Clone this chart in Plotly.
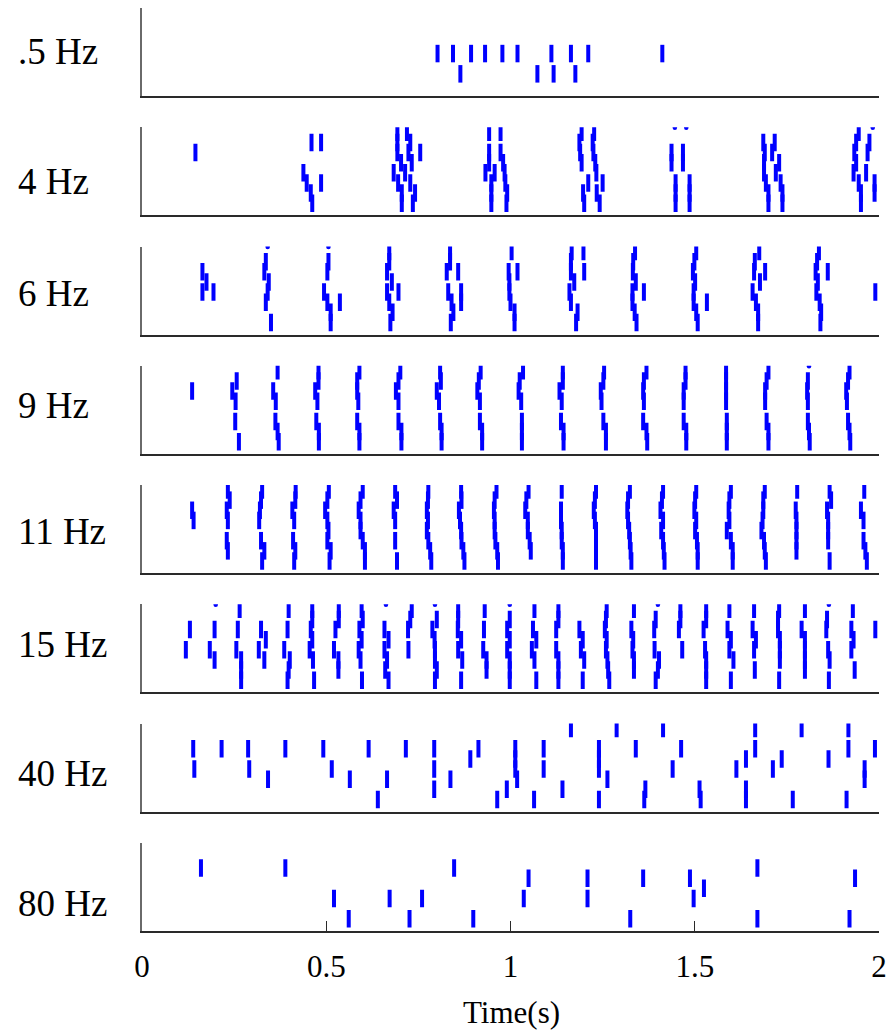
import plotly.graph_objects as go

# Spike times (s) per stimulation frequency; list index = trial number
# (trial 0 lies just above the visible window, only its lower end shows).
labels = [".5 Hz", "4 Hz", "6 Hz", "9 Hz", "11 Hz", "15 Hz", "40 Hz", "80 Hz"]

spikes_05hz = [
    [],
    [], [], [], [],
    [0.802, 0.844, 0.893, 0.931, 0.978, 1.019, 1.111, 1.164, 1.211, 1.412],
    [],
    [0.864, 1.073, 1.117, 1.176],
    [],
]

spikes_4hz = [
    [1.446, 1.477, 1.983],
    [0.693, 0.719, 0.942, 0.973, 1.193, 1.227, 1.945],
    [0.460, 0.486, 0.693, 0.728, 1.187, 1.223, 1.686, 1.717, 1.938, 1.974],
    [0.145, 0.693, 0.723, 0.755, 0.942, 0.973, 1.189, 1.225, 1.437, 1.468, 1.690, 1.710, 1.933, 1.969],
    [0.703, 0.732, 0.942, 0.980, 1.193, 1.230, 1.437, 1.468, 1.688, 1.729, 1.938],
    [0.438, 0.683, 0.714, 0.932, 0.957, 0.984, 1.233, 1.688, 1.720, 1.931, 1.965],
    [0.447, 0.486, 0.695, 0.728, 0.948, 0.986, 1.211, 1.250, 1.448, 1.486, 1.693, 1.733, 1.945, 1.988],
    [0.458, 0.705, 0.741, 0.948, 0.991, 1.197, 1.234, 1.448, 1.486, 1.700, 1.738, 1.951, 1.988],
    [0.462, 0.705, 0.735, 0.948, 0.989, 1.200, 1.242, 1.448, 1.486, 1.700, 1.738, 1.951],
]

spikes_6hz = [
    [0.341, 0.506],
    [0.671, 0.836, 1.003, 1.166, 1.198, 1.338, 1.504, 1.675, 1.837],
    [0.336, 0.506, 0.671, 0.836, 1.164, 1.333, 1.499, 1.663, 1.832],
    [0.164, 0.332, 0.503, 0.665, 0.827, 0.858, 0.995, 1.019, 1.164, 1.200, 1.332, 1.495, 1.661, 1.691, 1.828, 1.861],
    [0.175, 0.344, 0.678, 0.997, 1.173, 1.340, 1.501, 1.677, 1.834],
    [0.164, 0.194, 0.341, 0.494, 0.665, 0.696, 0.831, 0.866, 0.997, 1.160, 1.331, 1.362, 1.497, 1.657, 1.830, 1.990],
    [0.336, 0.503, 0.537, 0.671, 0.840, 0.866, 1.000, 1.164, 1.331, 1.497, 1.533, 1.666, 1.839],
    [0.512, 0.680, 0.845, 1.011, 1.182, 1.337, 1.504, 1.672, 1.843],
    [0.350, 0.512, 0.674, 0.838, 1.011, 1.178, 1.342, 1.508, 1.672, 1.841],
]

spikes_9hz = [
    [1.810],
    [0.368, 0.479, 0.590, 0.701, 0.809, 0.919, 1.034, 1.142, 1.254, 1.369, 1.475, 1.585, 1.700, 1.920],
    [0.257, 0.479, 0.584, 0.696, 0.811, 0.914, 1.025, 1.142, 1.252, 1.362, 1.475, 1.585, 1.695, 1.807, 1.916],
    [0.136, 0.245, 0.356, 0.470, 0.584, 0.689, 0.800, 0.910, 1.022, 1.133, 1.245, 1.360, 1.470, 1.585, 1.691, 1.805, 1.911],
    [0.254, 0.363, 0.476, 0.587, 0.696, 0.806, 0.917, 1.029, 1.139, 1.247, 1.362, 1.470, 1.585, 1.691, 1.807, 1.913],
    [],
    [0.253, 0.362, 0.473, 0.584, 0.696, 0.809, 0.917, 1.031, 1.137, 1.252, 1.360, 1.470, 1.587, 1.695, 1.807, 1.916],
    [0.368, 0.480, 0.590, 0.704, 0.813, 0.923, 1.031, 1.144, 1.259, 1.369, 1.477, 1.587, 1.700, 1.810, 1.920],
    [0.263, 0.371, 0.480, 0.590, 0.704, 0.813, 0.923, 1.031, 1.144, 1.259, 1.371, 1.477, 1.587, 1.700, 1.812, 1.922],
]

spikes_11hz = [
    [],
    [0.233, 0.326, 0.417, 0.507, 0.599, 0.687, 0.777, 0.866, 0.962, 1.049, 1.139, 1.232, 1.324, 1.414, 1.504, 1.598, 1.690, 1.778, 1.866, 1.960],
    [0.238, 0.323, 0.416, 0.503, 0.593, 0.692, 0.776, 0.867, 0.957, 1.043, 1.229, 1.319, 1.411, 1.501, 1.594, 1.686, 1.870],
    [0.136, 0.230, 0.320, 0.408, 0.497, 0.588, 0.683, 0.773, 0.860, 0.955, 1.040, 1.137, 1.226, 1.317, 1.407, 1.499, 1.592, 1.686, 1.774, 1.859, 1.951],
    [0.140, 0.233, 0.318, 0.413, 0.503, 0.593, 0.687, 0.776, 0.863, 0.957, 1.047, 1.137, 1.229, 1.319, 1.414, 1.504, 1.594, 1.684, 1.776, 1.862, 1.958],
    [0.506, 0.593, 0.773, 0.866, 0.957, 1.047, 1.139, 1.232, 1.322, 1.409, 1.501, 1.587, 1.681, 1.776, 1.862],
    [0.230, 0.323, 0.410, 0.503, 0.599, 0.687, 0.777, 0.867, 0.959, 1.052, 1.139, 1.232, 1.324, 1.414, 1.506, 1.598, 1.688, 1.776, 1.862, 1.958],
    [0.233, 0.332, 0.416, 0.512, 0.605, 0.782, 0.872, 0.964, 1.055, 1.142, 1.232, 1.326, 1.416, 1.508, 1.603, 1.690, 1.776, 1.963],
    [0.326, 0.413, 0.509, 0.605, 0.692, 0.785, 0.875, 0.966, 1.142, 1.232, 1.328, 1.418, 1.508, 1.603, 1.693, 1.866, 1.967],
]

spikes_15hz = [
    [0.200, 0.662, 0.795, 0.998, 1.400, 1.864],
    [0.265, 0.398, 0.462, 0.534, 0.596, 0.732, 0.858, 0.930, 1.065, 1.130, 1.261, 1.335, 1.461, 1.531, 1.594, 1.661, 1.729, 1.799, 1.929],
    [0.462, 0.534, 0.599, 0.728, 0.800, 0.858, 0.998, 1.130, 1.259, 1.394, 1.461, 1.531, 1.726, 1.859],
    [0.130, 0.197, 0.260, 0.323, 0.395, 0.458, 0.525, 0.590, 0.658, 0.722, 0.788, 0.857, 0.928, 0.991, 1.061, 1.124, 1.187, 1.256, 1.328, 1.390, 1.457, 1.524, 1.589, 1.657, 1.726, 1.790, 1.857, 1.925, 1.990],
    [0.336, 0.462, 0.596, 0.669, 0.794, 0.866, 0.998, 1.070, 1.196, 1.261, 1.333, 1.598, 1.666, 1.731, 1.799, 1.931],
    [0.119, 0.184, 0.256, 0.317, 0.386, 0.455, 0.521, 0.588, 0.658, 0.723, 0.795, 0.858, 0.926, 0.991, 1.058, 1.124, 1.191, 1.259, 1.331, 1.391, 1.466, 1.528, 1.594, 1.661, 1.731, 1.799, 1.862, 1.925],
    [0.197, 0.269, 0.332, 0.401, 0.464, 0.533, 0.593, 0.665, 0.795, 0.869, 0.935, 0.998, 1.065, 1.130, 1.200, 1.263, 1.335, 1.403, 1.531, 1.605, 1.731, 1.799, 1.866],
    [0.269, 0.398, 0.533, 0.660, 0.800, 0.935, 0.998, 1.130, 1.265, 1.335, 1.400, 1.531, 1.663, 1.799, 1.934],
    [0.269, 0.395, 0.467, 0.597, 0.669, 0.795, 0.866, 0.998, 1.070, 1.130, 1.196, 1.268, 1.394, 1.531, 1.598, 1.729, 1.864],
]

spikes_40hz = [
    [],
    [1.164, 1.288, 1.414, 1.664, 1.790, 1.917],
    [],
    [0.139, 0.216, 0.288, 0.389, 0.492, 0.615, 0.716, 0.793, 0.913, 1.013, 1.090, 1.240, 1.340, 1.463, 1.664, 1.917, 1.989],
    [0.891, 1.013, 1.240, 1.639, 1.736, 1.863],
    [0.142, 0.291, 0.515, 0.793, 1.013, 1.090, 1.240, 1.440, 1.613, 1.712, 1.961],
    [0.342, 0.564, 0.665, 0.837, 1.018, 1.263, 1.961],
    [0.793, 0.990, 1.141, 1.366, 1.513, 1.639],
    [0.640, 0.964, 1.064, 1.240, 1.363, 1.516, 1.639, 1.766, 1.912],
]

spikes_80hz = [
    [],
    [], [],
    [0.160, 0.389, 0.847, 1.670],
    [1.049, 1.209, 1.360, 1.487, 1.935],
    [1.525],
    [0.521, 0.672, 0.760, 1.036, 1.209, 1.497],
    [],
    [0.561, 0.726, 0.899, 1.325, 1.670, 1.920],
]

panels = [spikes_05hz, spikes_4hz, spikes_6hz, spikes_9hz,
          spikes_11hz, spikes_15hz, spikes_40hz, spikes_80hz]

time_ticks = [0, 0.5, 1, 1.5, 2]
time_tick_text = ["0", "0.5", "1", "1.5", "2"]

# ---- layout geometry (pixels) ----
W, H = 895, 1030
M_L, M_R, M_T, M_B = 142, 11, 8, 99
PLOT_H = H - M_T - M_B
PANEL_STEP = 119.25
PANEL_H = 88
LABEL_Y = [52, 181, 293, 405, 531, 644, 773, 903]
TRIAL_RANGE = [9.185, 0.507]   # trials run downward
BLUE = "#0000ff"
SERIF = "Liberation Serif, Times New Roman, serif"

fig = go.Figure()
layout = dict(
    width=W, height=H,
    margin=dict(l=M_L, r=M_R, t=M_T, b=M_B),
    paper_bgcolor="white", plot_bgcolor="white",
    showlegend=False,
    annotations=[],
)

n = len(panels)
for i, rows in enumerate(panels):
    top_px = M_T + PANEL_STEP * i
    d_top = 1 - (top_px - M_T) / PLOT_H
    d_bot = max(0.0, 1 - (top_px + PANEL_H - M_T) / PLOT_H)
    sfx = "" if i == 0 else str(i + 1)
    xa, ya = "x" + sfx, "y" + sfx

    xs, ys, ex, ey = [], [], [], []
    for trial, times in enumerate(rows):
        for t in times:
            if trial == 0:
                ex.append(t)
                ey.append(trial + 0.55)   # lower end of an off-window trial's tick
            else:
                xs.append(t)
                ys.append(trial)

    fig.add_trace(go.Scatter(
        x=xs, y=ys, mode="markers", xaxis=xa, yaxis=ya,
        marker=dict(symbol="line-ns", size=12.5, color=BLUE,
                    line=dict(width=4, color=BLUE)),
        hoverinfo="skip",
    ))
    if ex:
        fig.add_trace(go.Scatter(
            x=ex, y=ey, mode="markers", xaxis=xa, yaxis=ya,
            marker=dict(symbol="circle", size=4.5, color=BLUE,
                        line=dict(width=0)),
            hoverinfo="skip",
        ))

    last = i == n - 1
    layout["xaxis" + sfx] = dict(
        domain=[0, 1], anchor=ya, range=[0, 2],
        showline=True, linecolor="#2a2a2a", linewidth=2,
        showgrid=False, zeroline=False,
        tickmode="array", tickvals=time_ticks, ticktext=time_tick_text,
        ticks="inside" if last else "", ticklen=10, tickwidth=1,
        tickcolor="#2a2a2a",
        showticklabels=last,
        tickfont=dict(family=SERIF, size=31, color="black"),
        ticklabelstandoff=7,
    )
    layout["yaxis" + sfx] = dict(
        domain=[d_bot, d_top], anchor=xa, range=TRIAL_RANGE,
        showline=True, linecolor="#6a6a6a", linewidth=2,
        showgrid=False, zeroline=False, ticks="", showticklabels=False,
    )
    layout["annotations"].append(dict(
        text=labels[i], xref="paper", yref="paper",
        x=(15 - M_L) / (W - M_L - M_R), y=1 - (LABEL_Y[i] - M_T) / PLOT_H,
        xanchor="left", yanchor="middle", showarrow=False,
        font=dict(family=SERIF, size=37, color="black"),
    ))

layout["annotations"].append(dict(
    text="Time(s)", xref="paper", yref="paper",
    x=(514 - M_L) / (W - M_L - M_R), y=1 - (1012 - M_T) / PLOT_H,
    xanchor="center", yanchor="middle", showarrow=False,
    font=dict(family=SERIF, size=31, color="black"),
))

fig.update_layout(**layout)
fig.write_html("out.html")
